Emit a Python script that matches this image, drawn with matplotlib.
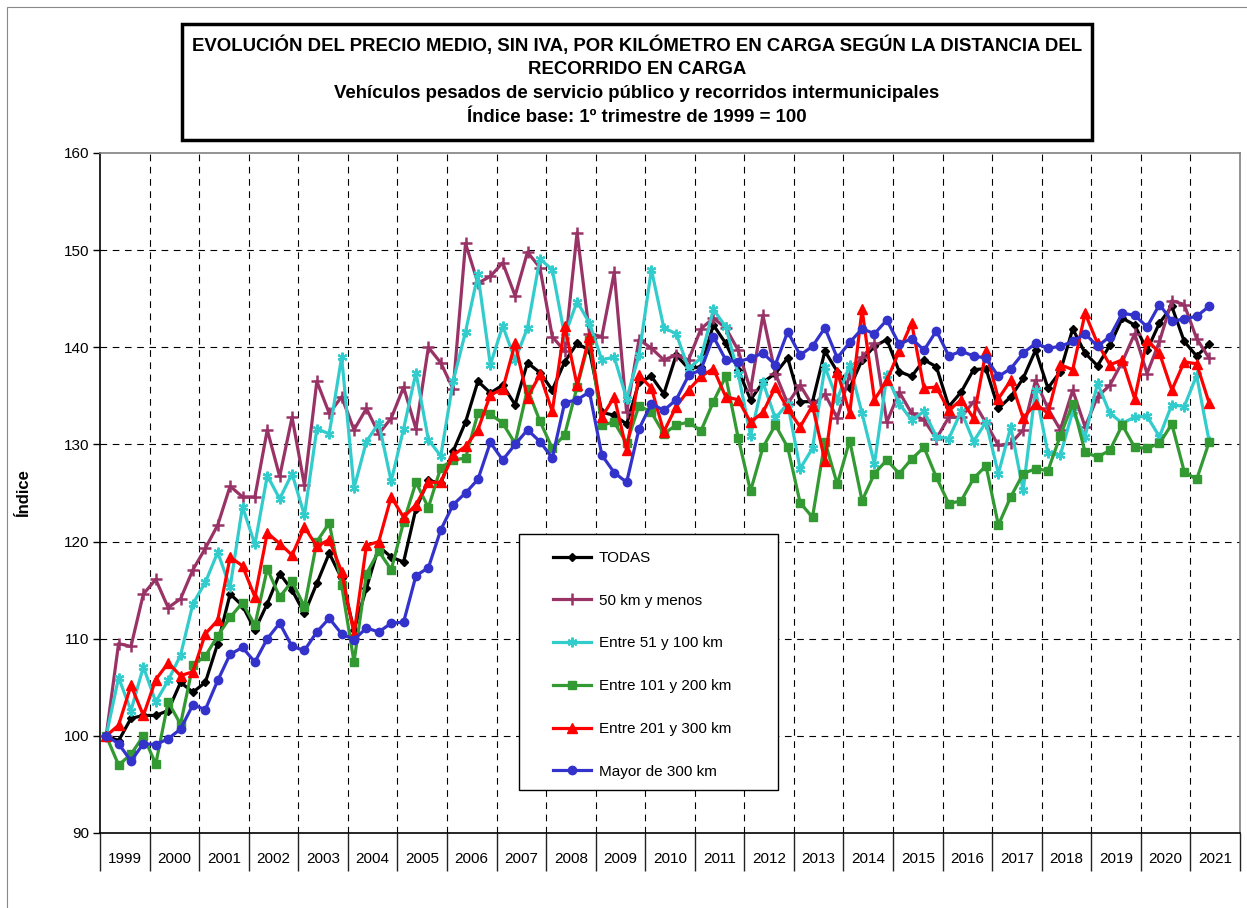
import matplotlib
matplotlib.use("Agg")
import matplotlib.pyplot as plt
from matplotlib.patches import Rectangle
import numpy as np

plt.rcParams['font.family'] = ['Liberation Sans', 'DejaVu Sans']

years = [str(y) for y in range(1999, 2022)]
n_categories = 92  # 23 years x 4 quarters (2021 only Q1-Q2 published)

todas = [100, 99.5, 101.8, 102.1,
         102.1, 102.6, 105.5, 104.5,
         105.5, 109.5, 114.6, 113.4,
         110.9, 113.6, 116.7, 115.0,
         112.6, 115.7, 118.8, 116.2,
         110.9, 115.2, 119.5, 118.4,
         117.9, 123.4, 126.3, 126.0,
         129.3, 132.3, 136.5, 135.3,
         136.1, 134.1, 138.4, 137.4,
         135.6, 138.5, 140.4, 139.7,
         133.3, 133.0, 132.1, 136.4,
         137.0, 135.2, 139.2, 137.8,
         138.0, 142.3, 140.4, 137.7,
         134.6, 136.4, 137.3, 138.9,
         134.4, 134.4, 139.6, 137.5,
         135.8, 138.7, 140.1, 140.8,
         137.5, 137.0, 138.7, 138.0,
         133.9, 135.4, 137.7, 137.8,
         133.7, 134.9, 136.8, 139.7,
         135.8, 137.5, 141.9, 139.4,
         138.1, 140.2, 143.0, 142.3,
         139.7, 142.5, 144.2, 140.6,
         139.1, 140.3]

km50 = [100, 109.5, 109.2, 114.6,
        116.1, 113.2, 114.1, 117.1,
        119.3, 121.7, 125.7, 124.6,
        124.6, 131.5, 126.7, 132.8,
        125.8, 136.5, 133.2, 134.9,
        131.5, 133.7, 131.1, 132.7,
        135.9, 131.6, 140.0, 138.4,
        135.7, 150.7, 146.6, 147.3,
        148.7, 145.3, 149.8, 148.2,
        141.1, 139.6, 151.8, 141.4,
        141.1, 147.7, 133.3, 140.8,
        139.9, 138.7, 139.2, 138.7,
        141.9, 143.0, 142.0, 139.7,
        135.6, 143.3, 137.3, 134.2,
        136.1, 134.0, 135.2, 132.7,
        137.2, 139.0, 140.4, 132.3,
        135.4, 133.2, 132.5, 130.6,
        132.8, 132.8, 134.4, 132.2,
        129.9, 130.1, 131.5, 136.6,
        133.7, 131.5, 135.6, 131.8,
        134.9, 136.1, 138.5, 141.4,
        137.3, 140.6, 144.8, 144.4,
        140.9, 138.9]

km51_100 = [100, 106.0, 102.6, 107.1,
            103.5, 105.7, 108.3, 113.6,
            115.8, 118.9, 115.3, 123.6,
            119.7, 126.8, 124.4, 127.0,
            122.7, 131.6, 131.1, 139.0,
            125.5, 130.3, 132.2, 126.2,
            131.6, 137.4, 130.5, 128.8,
            136.5, 141.6, 147.5, 138.2,
            142.2, 138.7, 142.0, 149.1,
            148.0, 141.2, 144.7, 142.5,
            138.7, 139.0, 134.7, 139.2,
            148.0, 142.0, 141.4, 137.8,
            138.9, 143.9, 142.1, 137.3,
            130.9, 136.4, 132.7, 134.2,
            127.5, 129.6, 138.0, 134.6,
            138.2, 133.2, 128.0, 137.1,
            134.2, 132.5, 133.4, 130.8,
            130.6, 133.4, 130.3, 132.3,
            127.0, 131.8, 125.3, 135.6,
            129.1, 128.9, 133.4, 130.8,
            136.3, 133.2, 132.2, 132.8,
            132.9, 130.8, 134.1, 133.9,
            137.1, 130.4]

km101_200 = [100, 97.0, 98.1, 100.0,
             97.1, 103.5, 101.2, 107.3,
             108.2, 110.3, 112.2, 113.7,
             111.4, 117.2, 114.3, 115.9,
             113.3, 120.0, 121.9, 115.5,
             107.6, 116.7, 119.0, 117.1,
             122.0, 126.1, 123.5, 127.6,
             128.4, 128.6, 133.2, 133.1,
             132.2, 130.1, 135.7, 132.4,
             129.6, 131.0, 135.9, 140.8,
             132.0, 132.3, 130.1, 134.0,
             133.3, 131.1, 132.0, 132.3,
             131.4, 134.4, 137.0, 130.7,
             125.2, 129.7, 132.0, 129.7,
             124.0, 122.5, 130.3, 125.9,
             130.4, 124.2, 127.0, 128.4,
             127.0, 128.5, 129.7, 126.6,
             123.9, 124.2, 126.5, 127.8,
             121.7, 124.6, 127.0, 127.5,
             127.3, 130.9, 134.2, 129.2,
             128.7, 129.4, 132.0, 129.7,
             129.6, 130.1, 132.1, 127.2,
             126.4, 130.2]

km201_300 = [100, 101.1, 105.2, 102.1,
             105.8, 107.5, 106.2, 106.6,
             110.5, 111.9, 118.4, 117.5,
             114.3, 120.9, 119.8, 118.6,
             121.5, 119.5, 120.2, 116.9,
             110.5, 119.6, 120.0, 124.6,
             122.5, 123.8, 126.1, 126.1,
             128.9, 129.8, 131.5, 135.1,
             135.7, 140.4, 134.8, 137.2,
             133.4, 142.2, 136.1, 141.1,
             132.8, 134.9, 129.4, 137.1,
             135.8, 131.3, 133.9, 135.6,
             137.0, 137.8, 134.9, 134.6,
             132.3, 133.3, 135.9, 133.7,
             131.8, 134.0, 128.3, 137.5,
             133.2, 143.9, 134.6, 136.6,
             139.6, 142.5, 135.8, 135.9,
             133.5, 134.6, 132.7, 139.6,
             134.7, 136.6, 132.7, 134.2,
             133.2, 138.2, 137.7, 143.5,
             140.4, 138.2, 138.7, 134.7,
             140.8, 139.4, 135.6, 138.5,
             138.3, 134.3]

mayor300 = [100, 99.2, 97.4, 99.2,
            99.1, 99.7, 100.7, 103.2,
            102.7, 105.7, 108.4, 109.1,
            107.6, 110.0, 111.6, 109.2,
            108.8, 110.7, 112.1, 110.5,
            109.9, 111.1, 110.7, 111.6,
            111.7, 116.5, 117.3, 121.2,
            123.8, 125.0, 126.4, 130.2,
            128.4, 130.0, 131.5, 130.3,
            128.6, 134.3, 134.6, 135.4,
            128.9, 127.1, 126.1, 131.6,
            134.2, 133.5, 134.6, 137.1,
            137.7, 141.1, 138.7, 138.5,
            138.9, 139.4, 138.2, 141.6,
            139.2, 140.1, 142.0, 138.9,
            140.5, 141.9, 141.4, 142.8,
            140.3, 140.9, 139.7, 141.7,
            139.1, 139.6, 139.1, 138.9,
            137.0, 137.8, 139.4, 140.4,
            139.9, 140.1, 140.6, 141.4,
            140.1, 141.1, 143.5, 143.3,
            142.1, 144.4, 142.7, 142.9,
            143.2, 144.2]

series_labels = ["TODAS", "50 km y menos", "Entre 51 y 100 km",
                 "Entre 101 y 200 km", "Entre 201 y 300 km", "Mayor de 300 km"]
series_values = [todas, km50, km51_100, km101_200, km201_300, mayor300]
colors = ["#000000", "#993366", "#33CCCC", "#339933", "#FF0000", "#3333CC"]
markers = ["D", "+", (6, 2, 0), "s", "^", "o"]
msizes = [4.5, 8, 7, 5.5, 6.5, 6]
mews = [1, 1.8, 1.6, 1, 1, 1]

W, H = 1247, 908
fig = plt.figure(figsize=(W / 100, H / 100), dpi=100)

def fx(px):
    return px / W

def fy(py):
    return 1 - py / H

# outer chart frame
fig.add_artist(Rectangle((fx(7), fy(1000)), fx(1300), fy(7) - fy(1000),
                         transform=fig.transFigure, fill=False,
                         edgecolor="#888888", linewidth=0.8))

L, R, T, B = 100, 1240, 153, 833
ax = fig.add_axes([fx(L), fy(B), fx(R - L), fy(T) - fy(B)])

for vals, lab, c, m, ms, mew in zip(series_values, series_labels, colors, markers, msizes, mews):
    x = np.arange(len(vals))
    ax.plot(x, vals, color=c, lw=2.3, marker=m, markersize=ms,
            markeredgewidth=mew, markeredgecolor=c, markerfacecolor=c,
            label=lab, zorder=3)

ax.set_xlim(-0.5, n_categories - 0.5)
ax.set_ylim(90, 160)

# y axis
ax.set_yticks(np.arange(90, 161, 10))
ax.tick_params(axis="y", direction="out", length=5, width=1, pad=3, labelsize=11)
ax.set_ylabel("Índice", fontsize=12, fontweight="bold", labelpad=23)

# x axis: year separators as major ticks, labels on minor ticks
bounds = np.arange(-0.5, n_categories, 4)
ax.set_xticks(bounds)
ax.set_xticklabels([])
ax.set_xticks(np.arange(1.5, n_categories, 4), minor=True)
ax.set_xticklabels(years, minor=True)
ax.tick_params(axis="x", which="major", direction="out", length=27, width=1, color="#222222")
ax.tick_params(axis="x", which="minor", length=0, pad=14, labelsize=11)

# grids
dash = (0, (6, 5))
for yv in range(100, 160, 10):
    ax.axhline(yv, color="black", lw=0.8, ls=dash, zorder=1)
for xv in bounds[1:-1]:
    ax.axvline(xv, color="black", lw=0.8, ls=dash, zorder=1)

for s in ["left", "bottom"]:
    ax.spines[s].set_color("black")
    ax.spines[s].set_linewidth(1.2)
for s in ["top", "right"]:
    ax.spines[s].set_color("#808080")
    ax.spines[s].set_linewidth(1.2)

# legend
fig.add_artist(Rectangle((fx(519), fy(790)), fx(778 - 519), fy(534) - fy(790),
                         transform=fig.transFigure, facecolor="white",
                         edgecolor="black", linewidth=1, zorder=5))
leg = fig.legend(loc="upper left", bbox_to_anchor=(fx(553), fy(551)),
                 frameon=False, fontsize=11, handlelength=2.5, handletextpad=0.5,
                 labelspacing=1.88, borderpad=0, borderaxespad=0, numpoints=1)
leg.set_zorder(6)

# title box
fig.add_artist(Rectangle((fx(182), fy(140)), fx(1092 - 182), fy(24) - fy(140),
                         transform=fig.transFigure, facecolor="white",
                         edgecolor="black", linewidth=2.5))
title_lines = ["EVOLUCIÓN DEL PRECIO MEDIO, SIN IVA, POR KILÓMETRO EN CARGA SEGÚN LA DISTANCIA DEL",
               "RECORRIDO EN CARGA",
               "Vehículos pesados de servicio público y recorridos intermunicipales",
               "Índice base: 1º trimestre de 1999 = 100"]
for line, py in zip(title_lines, [45, 69, 94, 118]):
    fig.text(fx(637), fy(py), line, ha="center", va="center",
             fontsize=13.4, fontweight="bold")

fig.savefig("out.png", dpi=100)
